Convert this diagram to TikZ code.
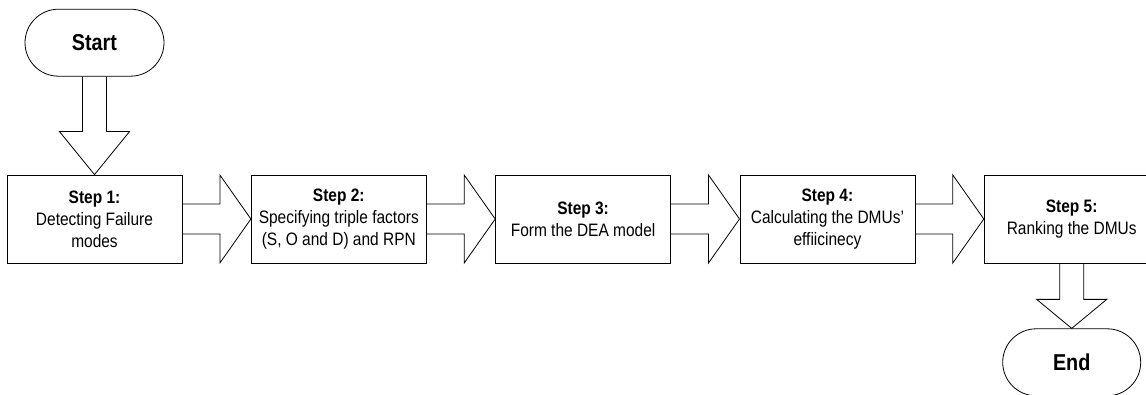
\documentclass[tikz,border=0pt]{standalone}
\usepackage{fontspec}
\setmainfont{Liberation Sans}[FakeStretch=0.86]
\usepackage{tikz}
\usetikzlibrary{calc}
\usetikzlibrary{positioning,shapes.misc}

\tikzset{
  stepbox/.style={draw, line width=0.8pt, minimum width=175pt, minimum height=88pt,
    inner sep=0pt, align=center, font=\fontsize{18}{22}\selectfont},
  terminal/.style={draw, line width=0.8pt, rounded rectangle, minimum width=139pt,
    minimum height=67pt, inner sep=0pt, font=\fontsize{23}{26}\selectfont\bfseries},
  blockarrow/.style={draw, line width=0.8pt, line join=miter}
}

% block arrow to the right: from #1 to #2
\newcommand{\hblockarrow}[2]{%
  \draw[blockarrow] ($(#1.east)+(0,-15)$) -- ($(#2.west)+(-31,-15)$)
    -- ($(#2.west)+(-31,-44)$) -- (#2.west) -- ($(#2.west)+(-31,44)$)
    -- ($(#2.west)+(-31,15)$) -- ($(#1.east)+(0,15)$);}
% block arrow downwards: from #1 to #2, head length #3
\newcommand{\vblockarrow}[3]{%
  \draw[blockarrow] ($(#1.south)+(-12,0)$) -- ($(#2.north)+(-12,-#3)$)
    -- ($(#2.north)+(-35,-#3)$) -- (#2.north) -- ($(#2.north)+(35,-#3)$)
    -- ($(#2.north)+(12,-#3)$) -- ($(#1.south)+(12,0)$);}

\begin{document}
\begin{tikzpicture}[x=1pt, y=-1pt, node distance=68.5pt]
        \useasboundingbox (0,0) rectangle (1146,395);

        \node[stepbox] (s1) at (94.5,219) {\textbf{Step 1:}\\Detecting Failure\\modes};
        \node[stepbox, right=of s1] (s2) {\textbf{Step 2:}\\Specifying triple factors\\(S, O and D) and RPN};
        \node[stepbox, right=of s2] (s3) {\textbf{Step 3:}\\Form the DEA model};
        \node[stepbox, right=of s3] (s4) {\textbf{Step 4:}\\Calculating the DMUs'\\effiicinecy};
        \node[stepbox, right=of s4] (s5) {\textbf{Step 5:}\\Ranking the DMUs};

        \node[terminal, above=98pt of s1] (start) {Start};
        \node[terminal, below=65pt of s5, minimum width=138pt] (end) {End};

        \vblockarrow{start}{s1}{43}
        \hblockarrow{s1}{s2}
        \hblockarrow{s2}{s3}
        \hblockarrow{s3}{s4}
        \hblockarrow{s4}{s5}
        \vblockarrow{s5}{end}{29}
    \end{tikzpicture}
\end{document}
